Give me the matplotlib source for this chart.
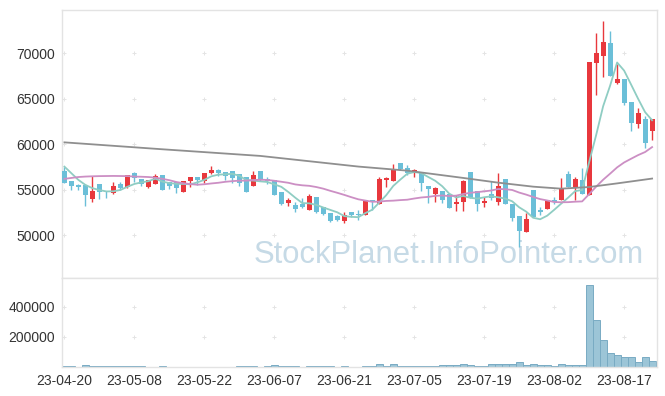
import matplotlib.pyplot as plt
import numpy as np
import pandas as pd

# daily candles, 23-04-20 .. 23-08-23
opens = [56990, 55970, 55530, 55530, 53950, 55600, 54870, 54680, 55600, 55340,
         56810, 56180, 55340, 55670, 56630, 55820, 55820, 54790, 56000, 56330,
         55970, 56880, 57180, 56920, 57070, 56700, 56330, 55450, 57070, 56150,
         56080, 54760, 53580, 53330, 53440, 52820, 54130, 53050, 52420, 52040,
         51600, 52560, 52270, 52270, 53800, 53470, 56080, 56000, 57910, 57360,
         56880, 56880, 55420, 54540, 54870, 54500, 53410, 53620, 56950, 54790,
         53520, 54500, 53690, 56180, 53410, 52120, 50390, 54980, 52700, 52860,
         53880, 53880, 56700, 55340, 56000, 54430, 68970, 69740, 71100, 66770,
         67180, 64610, 62200, 62780, 61490]
highs = [57540, 56000, 55590, 55590, 56550, 55650, 54900, 55890, 55890, 56650,
         56920, 56200, 56100, 56740, 56650, 55850, 55850, 56000, 56440, 56350,
         56870, 57610, 57290, 56990, 57100, 56720, 56350, 57070, 57100, 56440,
         56100, 54790, 54060, 53690, 54060, 54540, 54150, 53080, 52450, 52230,
         52590, 52590, 52720, 53830, 53850, 56370, 56350, 57800, 57950, 57720,
         57250, 56900, 55450, 55340, 54900, 54520, 54430, 56080, 56980, 54800,
         54240, 56000, 56810, 56200, 53430, 52150, 52420, 55000, 53140, 53900,
         54240, 56330, 57070, 56440, 57360, 69050, 72200, 73580, 72450, 68790,
         67200, 64650, 64020, 63140, 62780]
lows = [55700, 54980, 54980, 53220, 53690, 53990, 54070, 54570, 54980, 55230,
        55890, 55450, 55230, 55650, 54980, 55050, 54610, 54780, 55340, 55530,
        55710, 56770, 56550, 56080, 55780, 55450, 54700, 55420, 55950, 55640,
        54400, 53330, 53250, 52560, 52970, 52780, 52450, 52230, 51490, 51600,
        51320, 51980, 51680, 52200, 52780, 53440, 55310, 55970, 57200, 56630,
        56370, 54900, 53580, 53690, 53580, 53000, 52670, 52670, 54100, 52700,
        53080, 53880, 53330, 53380, 51600, 48680, 50360, 52000, 52230, 52830,
        53440, 53820, 55300, 53880, 54480, 54400, 65420, 67430, 67500, 66680,
        64320, 61460, 61760, 59630, 60470]
closes = [55780, 55450, 55340, 54430, 54870, 54720, 54720, 55420, 55160, 56630,
          56260, 55600, 56080, 56520, 55010, 55450, 55230, 55970, 56330, 56080,
          56850, 57180, 56850, 56550, 56330, 55780, 54790, 56630, 56080, 56000,
          54460, 53440, 53800, 52920, 53050, 54320, 52590, 52370, 51600, 51730,
          52230, 52180, 52190, 53800, 53630, 56160, 56260, 57250, 57250, 56880,
          57100, 55710, 55090, 55160, 53880, 53030, 53580, 55970, 54130, 53410,
          53770, 54130, 55420, 53410, 51930, 50470, 51760, 52040, 52590, 53880,
          53690, 55160, 55340, 56180, 54500, 69010, 70000, 71210, 67540, 67180,
          64570, 62310, 63410, 60180, 62750]
volumes = [5000, 5000, 2000, 13000, 6000, 6000, 5000, 5000, 5000, 5000,
           5000, 5000, 1500, 1500, 5000, 1500, 1500, 1500, 1500, 1500,
           1500, 1500, 1500, 1500, 1500, 5000, 5000, 5000, 1500, 5000,
           12000, 5000, 5000, 5000, 1500, 5000, 5000, 5000, 5000, 1500,
           5000, 1500, 1500, 5000, 5000, 20000, 5000, 20000, 5000, 5000,
           5000, 5000, 5000, 5000, 10000, 10000, 10000, 18000, 12000, 5000,
           5000, 17000, 17000, 17000, 17000, 33000, 13000, 20000, 13000, 13000,
           5000, 20000, 13000, 13000, 13000, 542000, 309000, 176000, 93000, 80000,
           67000, 65000, 33000, 67000, 42000]

# moving-average values before enough in-window data exists
ma5_head = [57540, 56810, 56080, 55530]
ma20_head = [56200, 56300, 56400, 56450, 56480, 56500, 56510, 56520, 56510, 56500,
             56450, 56430, 56400, 56330, 56200, 56050, 55850, 55720, 55620]
# long moving average, read at a few points
ma_long_idx = [0, 14, 28, 42, 49, 53, 57, 62, 67, 71, 75, 79, 84]
ma_long = [60210, 59450, 58720, 57550, 57100, 56700, 56300, 55780, 55340, 55120,
           55300, 55700, 56230]

tick_idx = [0, 10, 20, 30, 40, 50, 60, 70, 80]
tick_labels = ['23-04-20', '23-05-08', '23-05-22', '23-06-07', '23-06-21',
               '23-07-05', '23-07-19', '23-08-02', '23-08-17']

RED = '#e8383d'
BLUE = '#6bbfd8'
GRID = '#e4e4e4'
SPINE = '#e3e3e3'

o = np.array(opens); h = np.array(highs); l = np.array(lows); c = np.array(closes)
x = np.arange(len(c))
ma5 = pd.Series(c).rolling(5).mean().to_numpy()
ma5[:4] = ma5_head
ma20 = pd.Series(c).rolling(20).mean().to_numpy()
ma20[:19] = ma20_head

plt.rcParams['font.family'] = ['Liberation Sans', 'DejaVu Sans']
fig = plt.figure(figsize=(6.65, 3.96), dpi=100)
ax = fig.add_axes([62 / 665, 1 - 278 / 396, 595 / 665, 268 / 396])
axv = fig.add_axes([62 / 665, 1 - 367 / 396, 595 / 665, 89 / 396])

up = c >= o
cols = np.where(up, RED, BLUE)
ax.vlines(x, l, h, colors=cols, linewidth=1, zorder=3)
ax.bar(x, np.abs(c - o) + 30, bottom=np.minimum(o, c), width=0.72, color=cols,
       linewidth=0, zorder=4)

ax.plot(x, ma5, color='#8fcdc3', lw=1.3, zorder=5)
ax.plot(x, ma20, color='#cc8fc4', lw=1.3, zorder=5)
ax.plot(ma_long_idx, ma_long, color='#8f8f8f', lw=1.3, zorder=5)

ax.text(0.65, 0.086, 'StockPlanet.InfoPointer.com', transform=ax.transAxes,
        ha='center', va='center', fontsize=22.3, color='#c6dae6', zorder=1)

axv.bar(x, volumes, width=1.0, color='#9cc5d7', edgecolor='#79abc3', linewidth=0.7)

ax.set_xlim(-0.35, 84.7)
axv.set_xlim(-0.35, 84.7)
ax.set_ylim(45300, 74760)
axv.set_ylim(0, 591000)

ax.set_yticks([50000, 55000, 60000, 65000, 70000])
axv.set_yticks([200000, 400000])
ax.set_xticks(tick_idx)
ax.set_xticklabels([])
axv.set_xticks(tick_idx)
axv.set_xticklabels(tick_labels)

for a in (ax, axv):
    a.tick_params(length=0, labelsize=10, colors='#333333', pad=5)
    for s in a.spines.values():
        s.set_color(SPINE)
        s.set_linewidth(1)
    gx, gy = np.meshgrid(a.get_xticks(), a.get_yticks())
    a.scatter(gx.ravel(), gy.ravel(), marker='+', s=12, color=GRID, linewidths=0.7,
              zorder=0)

plt.savefig('out.png', dpi=100)
